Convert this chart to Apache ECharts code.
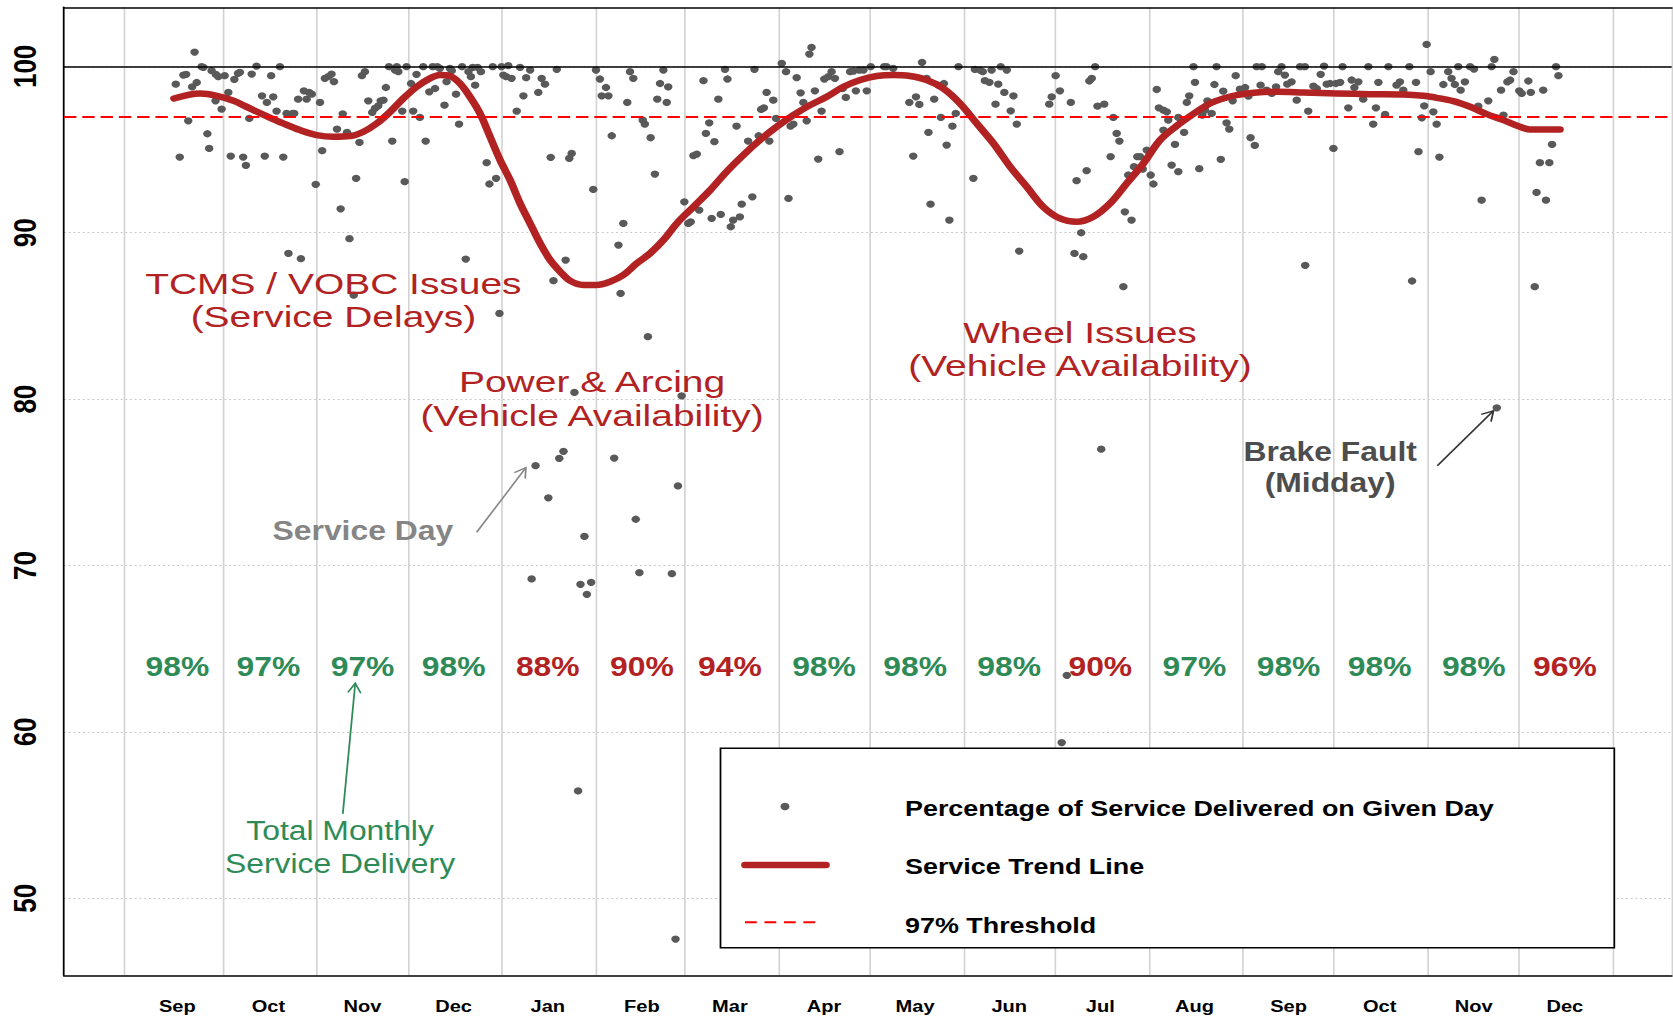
<!DOCTYPE html>
<html>
<head>
<meta charset="utf-8">
<script src="https://cdn.jsdelivr.net/npm/echarts@6/dist/echarts.min.js"></script>
<style>
html,body{margin:0;padding:0;overflow:hidden;background:#fff;}
#wrap{width:1673px;height:1019px;overflow:hidden;position:relative;}
#chart{width:1418px;height:1019px;transform:scaleX(1.17983);transform-origin:0 0;}
</style>
</head>
<body>
<div id="wrap"><div id="chart"></div></div>
<script>
// ---------------- data ----------------
const monthNames = ['Sep','Oct','Nov','Dec','Jan','Feb','Mar','Apr','May','Jun','Jul','Aug','Sep','Oct','Nov','Dec'];
// day index counted from 1 Sep (first year); leap February
const monthStartDays = [0,30,61,91,122,153,182,213,243,274,304,335,366,396,427,457,488];
const firstGridDay = -2.4;
const monthlyDelivery = [98,97,97,98,88,90,94,98,98,98,90,97,98,98,98,96];
const yTicks = [50,60,70,80,90,100];
const threshold = 97;
const fullService = 100;

// [day index, % of service delivered]
const serviceDays = [
[14.5,98.93],[15.8,94.55],[17.0,99.48],[17.9,99.52],[18.6,96.73],[19.9,98.77],[20.7,100.86],[21.4,99.03],[23.0,99.98],[23.6,99.94],
[24.9,95.95],[25.5,95.07],[26.3,99.74],[27.6,97.93],[27.7,99.52],[28.5,99.38],[29.6,97.43],[30.6,99.44],[31.8,98.43],[32.6,94.61],
[33.8,99.22],[35.0,99.58],[35.6,99.64],[36.7,94.55],[37.6,94.05],[38.7,96.87],[39.5,99.54],[41.1,100.02],[42.9,98.23],[43.8,94.61],
[44.5,97.83],[45.9,99.44],[46.6,98.17],[47.7,97.31],[48.8,99.98],[49.9,94.55],[51.0,97.17],[51.6,88.76],[53.0,97.17],[53.5,97.17],
[54.8,98.03],[55.7,88.44],[56.7,98.53],[57.6,98.03],[58.4,98.43],[59.3,98.33],[60.6,92.91],[62.0,97.83],[62.7,94.93],[63.6,99.28],
[64.7,99.38],[65.8,99.54],[66.6,99.08],[67.6,96.23],[68.8,91.44],[69.5,97.15],[70.9,96.03],[71.7,89.64],[73.1,86.25],[73.9,93.27],
[75.0,95.43],[75.8,99.44],[76.8,99.68],[77.9,97.93],[79.2,97.23],[80.1,97.47],[81.2,97.63],[82.0,97.93],[82.9,97.97],[83.7,98.73],
[84.7,99.98],[85.8,95.51],[86.7,99.78],[87.3,99.98],[87.8,99.68],[89.1,97.31],[89.9,93.07],[90.5,99.98],[92.0,98.97],[92.7,97.31],
[93.8,99.52],[94.9,96.93],[96.0,99.98],[96.8,95.51],[98.0,98.47],[99.1,99.98],[99.9,98.67],[100.6,99.98],[101.5,99.88],[103.0,97.67],
[103.7,99.08],[104.8,99.88],[105.4,99.74],[106.8,98.33],[107.8,96.53],[108.8,99.98],[110.0,88.42],[110.9,99.68],[111.7,99.38],[112.3,99.94],
[113.1,98.87],[113.9,99.94],[115.0,99.68],[116.9,94.21],[117.8,92.93],[118.9,99.98],[120.0,93.27],[121.1,85.15],[121.8,99.98],[122.4,99.48],
[123.3,99.38],[124.0,100.04],[125.1,99.28],[126.8,97.31],[127.9,99.94],[129.0,98.23],[129.9,99.32],[131.2,99.78],[131.7,69.19],[133.0,76.0],
[133.9,98.43],[135.0,99.28],[136.1,98.93],[137.2,74.07],[138.0,94.53],[138.9,87.12],[140.0,99.82],[140.8,76.44],[142.2,76.86],[142.9,88.36],
[144.1,94.47],[144.9,94.77],[145.8,80.4],[147.0,56.45],[147.8,68.87],[149.1,71.75],[149.9,68.27],[151.3,68.99],[152.0,92.6],[152.9,99.78],
[154.2,99.24],[154.8,98.23],[156.2,98.73],[157.0,98.23],[158.1,95.83],[158.9,76.46],[160.3,89.26],[161.0,86.35],[161.9,90.56],[163.2,97.83],
[164.1,99.68],[165.2,99.28],[166.0,72.78],[167.2,69.57],[168.3,96.77],[169.0,96.53],[170.0,83.75],[170.9,95.71],[172.3,93.53],[173.1,98.03],
[174.0,98.97],[175.1,99.78],[176.2,97.83],[176.7,98.77],[177.9,69.51],[179.1,47.55],[179.9,74.78],[181.1,80.2],
[182.0,91.86],[183.3,90.56],[184.1,90.66],[185.0,94.63],[186.1,94.73],[186.9,91.36],[188.3,99.14],[189.1,95.97],[190.2,96.61],[191.0,90.86],
[191.9,95.47],[193.2,98.03],[194.0,91.1],[195.4,99.82],[196.2,99.24],[197.3,90.36],[198.1,90.76],[199.2,96.41],[200.3,90.96],[200.9,91.72],
[203.0,95.51],[204.4,92.16],[205.1,99.82],[206.5,95.83],[207.3,97.41],[208.2,97.51],[209.1,98.43],[210.0,95.51],[211.3,97.97],[212.2,96.87],
[214.1,100.18],[215.5,99.68],[216.3,92.06],[217.0,96.41],[217.9,96.53],[219.0,99.32],[220.3,98.41],[221.2,97.83],[222.3,96.73],[223.2,100.74],
[223.9,101.14],[225.0,98.53],[226.1,94.43],[227.2,97.31],[228.1,99.24],[229.4,99.38],[230.5,99.68],[231.6,99.28],[233.1,94.87],[234.2,98.67],
[235.2,98.13],[236.6,99.68],[237.7,99.72],[238.5,98.53],[239.6,99.78],[241.0,99.78],[242.1,98.53],[243.4,99.98],[247.8,99.98],[248.6,99.98],
[250.8,99.88],[256.1,97.83],[257.4,94.61],[258.3,98.17],[259.4,97.71],[260.3,100.24],[261.8,99.28],[262.4,96.03],[263.1,91.72],[264.3,98.03],
[265.7,98.87],[266.5,96.93],[267.5,98.97],[268.4,95.27],[269.3,90.76],[270.3,96.41],[271.4,97.17],[272.3,99.98],[277.2,93.27],[277.7,99.82],
[279.4,99.78],[280.3,99.68],[281.0,99.14],[282.5,99.04],[283.2,99.78],[284.5,97.73],[285.4,98.93],[286.2,99.98],[287.4,98.43],[288.2,99.78],
[289.5,97.33],[290.4,98.23],[291.5,96.53],[292.3,88.9],[302.2,97.73],[303.0,98.17],[304.3,99.44],[305.7,98.53],[306.3,59.36],[308.0,63.4],
[309.3,97.83],[310.5,88.76],[311.2,93.13],[312.7,90.0],[313.4,88.56],[314.5,93.73],[315.4,99.12],[316.2,99.28],[317.3,99.98],[318.1,97.61],
[319.3,76.99],[320.3,97.73],[322.4,94.57],[323.3,96.93],[324.4,95.97],[325.3,95.51],[326.6,86.76],[327.1,91.26],[328.2,93.47],[329.3,90.76],
[330.1,93.97],[331.2,94.57],[332.1,94.57],[333.0,93.83],[334.3,94.97],[335.6,93.47],[336.5,92.93],[337.6,98.61],[338.3,97.51],[339.8,97.37],
[339.8,96.17],[340.9,97.27],[341.4,96.77],[342.5,94.07],[343.6,95.31],[344.7,96.93],[344.7,93.67],
[346.6,96.03],[347.5,97.83],[348.3,98.23],[349.7,99.98],[350.2,99.04],[351.6,93.85],[352.6,97.07],[353.5,97.37],[354.3,97.93],[355.7,97.17],
[356.6,98.91],[357.3,99.98],[358.7,94.41],[359.5,98.51],[360.6,96.61],[361.5,96.23],[362.6,97.93],[363.6,99.44],[365.0,98.63],[366.7,98.73],
[367.8,98.21],[368.5,95.71],[369.9,95.25],[370.5,99.98],[371.8,98.87],[372.2,99.98],[373.8,98.57],[375.5,98.37],[376.9,98.77],[377.6,99.68],
[378.7,99.98],[379.8,99.48],[380.6,98.93],[382.0,99.07],[383.7,97.97],[384.8,99.98],[386.4,99.98],[386.5,88.04],[387.5,97.31],[389.2,98.81],
[390.3,98.67],[391.6,99.52],[392.7,100.02],[393.6,98.93],[394.7,98.97],[395.8,95.07],[396.6,98.97],[398.0,99.04],[398.8,99.98],[400.7,97.51],
[401.8,99.18],[402.7,98.73],[404.0,99.07],[405.6,98.03],[407.3,99.98],[408.9,96.53],[409.8,97.51],[410.6,99.04],[412.8,97.11],[413.9,99.98],
[416.6,98.87],[417.7,99.07],[418.8,98.57],[420.8,99.98],[421.7,87.1],[423.0,99.04],[423.8,94.87],[424.9,96.91],[425.7,97.63],[426.5,101.32],
[427.8,99.68],[428.7,97.27],[429.8,96.53],[430.7,94.55],[432.0,98.91],[433.6,99.68],[434.7,99.28],[435.8,98.91],[436.9,99.98],[437.7,98.57],
[439.1,99.07],[440.8,99.98],[442.1,99.84],[443.5,97.61],[444.6,91.96],[446.8,97.93],[447.9,99.98],[448.8,100.42],[449.6,79.48],[451.0,98.57],
[451.8,97.07],[453.1,99.07],[454.0,99.18],[455.1,99.68],[457.0,98.53],[457.8,98.37],[460.0,99.12],[460.8,98.43],[462.1,86.76],[462.7,92.42],
[463.8,94.21],[464.9,98.57],[465.8,91.96],[466.9,94.21],[467.8,95.31],[469.1,99.98],[469.9,99.44]
];

const trendDays = [13.9,22.5,28.0,33.5,38.9,44.4,49.9,55.4,60.9,66.4,71.9,76.3,80.7,85.1,89.4,93.8,98.2,101.5,104.8,108.1,
111.4,114.7,118.0,121.3,124.6,127.9,131.2,134.5,137.8,141.1,144.3,148.7,153.1,157.5,161.9,166.3,170.7,175.1,179.5,185.0,
190.5,195.9,201.4,206.9,212.4,217.9,223.4,228.9,234.4,239.9,245.4,250.8,256.3,261.8,267.3,272.8,278.3,283.8,289.3,294.8,
300.2,305.7,311.2,316.7,322.2,327.7,333.2,338.7,344.0,350.7,355.1,359.5,363.9,370.5,377.1,385.9,396.9,407.8,418.8,425.4,
429.8,435.3,440.8,446.3,451.8,457.2,460.5,464.9,470.4];
const trendValues = [98.07,98.37,98.23,97.93,97.47,97.01,96.57,96.17,95.87,95.77,95.81,96.07,96.57,97.27,98.07,98.77,99.28,99.48,99.42,98.97,
98.17,97.17,95.77,94.37,93.17,91.76,90.56,89.36,88.36,87.66,87.12,86.86,86.86,87.06,87.46,88.16,88.76,89.56,90.56,91.56,
92.56,93.67,94.67,95.57,96.37,97.07,97.67,98.17,98.77,99.18,99.42,99.48,99.42,99.18,98.67,97.77,96.57,95.37,93.97,92.76,
91.56,90.86,90.66,90.96,91.76,92.97,94.17,95.57,96.4,97.27,97.77,98.07,98.27,98.43,98.47,98.43,98.37,98.33,98.31,98.23,
98.11,97.91,97.57,97.13,96.77,96.37,96.21,96.21,96.21];

// ---------------- layout ----------------
const SX = 1673 / 1418;          // horizontal stretch of the original picture
const W = 1418, H = 1019;
const FONT = "'Liberation Sans', Arial, Helvetica, sans-serif";
const RED = '#B22222', GREEN = '#2E8B57';
const X_MIN = -22.33, X_MAX = 507.2, Y_MIN = 45.37, Y_MAX = 103.55;
const PCT_ROW = 63.92;

const labelDays = monthNames.map((m, i) => monthStartDays[i] + 15);
const gridDays = monthStartDays.map((d, i) => i === 0 ? firstGridDay : d);

const chart = echarts.init(document.getElementById('chart'), null, {renderer: 'svg', width: W, height: H});

const option = {
  animation: false,
  backgroundColor: '#fff',
  textStyle: {fontFamily: FONT},
  grid: {left: 64 / SX, right: W - 1671.7 / SX, top: 7.3, bottom: 43.7, containLabel: false, outerBoundsMode: 'none'},
  xAxis: [{
    type: 'value', min: X_MIN, max: X_MAX,
    axisLine: {show: true, onZero: false, lineStyle: {color: '#000', width: 1.7}},
    axisTick: {show: false, customValues: gridDays},
    axisLabel: {
      customValues: labelDays, margin: 22,
      formatter: v => monthNames[labelDays.indexOf(v)] || '',
      fontSize: 17, fontWeight: 'bold', color: '#000', fontFamily: FONT
    },
    splitLine: {show: true, lineStyle: {color: '#D3D3D3', width: 1.4}}
  }, {
    type: 'value', min: X_MIN, max: X_MAX, position: 'top',
    axisLine: {show: true, onZero: false, lineStyle: {color: '#000', width: 1.7}},
    axisTick: {show: false}, axisLabel: {show: false}, splitLine: {show: false}
  }],
  yAxis: [{
    type: 'value', min: Y_MIN, max: Y_MAX,
    axisLine: {show: true, onZero: false, lineStyle: {color: '#000', width: 1.5}},
    axisTick: {show: false, customValues: yTicks},
    axisLabel: {customValues: yTicks, rotate: 90, margin: 20, fontSize: 26, fontWeight: 'bold', color: '#000', fontFamily: FONT},
    splitLine: {show: true, lineStyle: {color: '#C4C4C4', width: 1, type: [1.5, 2.5]}}
  }, {
    type: 'value', min: Y_MIN, max: Y_MAX, position: 'right',
    axisLine: {show: true, onZero: false, lineStyle: {color: '#D3D3D3', width: 1.4}},
    axisTick: {show: false}, axisLabel: {show: false}, splitLine: {show: false}
  }],
  series: [
    {
      name: 'Reference lines', type: 'line', data: [], z: 1, silent: true,
      markLine: {
        silent: true, symbol: ['none', 'none'], label: {show: false}, animation: false,
        data: [
          {yAxis: fullService, lineStyle: {color: '#000', width: 1.7, type: 'solid'}},
          {yAxis: threshold, lineStyle: {color: '#FF0000', width: 2, type: [10.5, 5]}}
        ]
      }
    },
    {
      name: 'Percentage of Service Delivered on Given Day', type: 'scatter', z: 2,
      symbol: 'circle', symbolSize: 7.2, itemStyle: {color: '#595959', opacity: 1},
      data: serviceDays
    },
    {
      name: 'Service Trend Line', type: 'line', z: 3, smooth: 0.35, showSymbol: false, symbol: 'none',
      lineStyle: {color: RED, width: 6.5, cap: 'round', join: 'round'},
      data: trendDays.map((d, i) => [d, trendValues[i]])
    },
    {
      name: 'Monthly delivery', type: 'scatter', z: 4, symbolSize: 1, silent: true,
      itemStyle: {color: 'rgba(0,0,0,0)', opacity: 1},
      label: {show: true, position: 'inside', fontSize: 27, fontWeight: 'bold', fontFamily: FONT, opacity: 1,
        textBorderWidth: 0, formatter: p => p.data.pct + '%'},
      data: monthlyDelivery.map((p, i) => ({
        value: [labelDays[i], PCT_ROW], pct: p,
        label: {color: p >= threshold ? GREEN : RED}
      }))
    }
  ]
};
chart.setOption(option);

// ---------------- annotations & legend ----------------
const annotations = [
  {text: 'TCMS / VOBC Issues\n(Service Delays)', at: [66.4, 85.96], color: RED, size: 30, weight: 'normal', lh: 33.6, sx: 1.1},
  {text: 'Power & Arcing\n(Vehicle Availability)', at: [151.6, 80.04], color: RED, size: 30, weight: 'normal', lh: 33.6, sx: 1.1},
  {text: 'Wheel Issues\n(Vehicle Availability)', at: [312.3, 83.0], color: RED, size: 30, weight: 'normal', lh: 33.6, sx: 1.1},
  {text: 'Brake Fault\n(Midday)', at: [394.7, 75.92], color: '#4D4D4D', size: 27, weight: 'bold', lh: 31.5, sx: 1},
  {text: 'Service Day', at: [76.1, 72.09], color: '#858585', size: 27, weight: 'bold', lh: 30, sx: 1},
  {text: 'Total Monthly\nService Delivery', at: [68.6, 53.07], color: GREEN, size: 27, weight: 'normal', lh: 33, sx: 1}
];
const arrows = [
  {from: [113.6, 72.0], to: [129.8, 75.88], color: '#888888'},
  {from: [69.5, 55.07], to: [73.6, 62.92], color: GREEN},
  {from: [430.0, 76.0], to: [448.5, 79.3], color: '#333333'}
];

const toPx = p => chart.convertToPixel({xAxisIndex: 0, yAxisIndex: 0}, p);
const graphics = [];
annotations.forEach(a => {
  const p = toPx(a.at);
  graphics.push({type: 'text', x: p[0], y: p[1], scaleX: a.sx, z: 50, silent: true,
    style: {text: a.text, fill: a.color, fontSize: a.size, fontWeight: a.weight, fontFamily: FONT,
      align: 'center', verticalAlign: 'middle', lineHeight: a.lh}});
});
arrows.forEach(a => {
  const p1 = toPx(a.from), p2 = toPx(a.to);
  const ang = Math.atan2(p2[1] - p1[1], p2[0] - p1[0]);
  const L = 11, h = Math.PI / 6;
  const l = [p2[0] - L * Math.cos(ang - h), p2[1] - L * Math.sin(ang - h)];
  const r = [p2[0] - L * Math.cos(ang + h), p2[1] - L * Math.sin(ang + h)];
  graphics.push({type: 'polyline', z: 50, silent: true, shape: {points: [p1, p2]}, style: {stroke: a.color, lineWidth: 1.5, fill: null}});
  graphics.push({type: 'polyline', z: 50, silent: true, shape: {points: [l, p2, r]}, style: {stroke: a.color, lineWidth: 1.5, fill: null}});
});

// legend box
const LX = v => v / SX;
graphics.push({type: 'rect', z: 60, silent: true,
  shape: {x: LX(720.5), y: 748.3, width: LX(1614.3) - LX(720.5), height: 199.4},
  style: {fill: '#fff', stroke: '#000', lineWidth: 1.5}});
graphics.push({type: 'circle', z: 61, silent: true, shape: {cx: LX(785), cy: 806.5, r: 3.8}, style: {fill: '#595959'}});
graphics.push({type: 'line', z: 61, silent: true, shape: {x1: LX(745), y1: 865, x2: LX(826), y2: 865},
  style: {stroke: RED, lineWidth: 6.5, lineCap: 'round'}});
graphics.push({type: 'line', z: 61, silent: true, shape: {x1: LX(745), y1: 922.3, x2: LX(819), y2: 922.3},
  style: {stroke: '#FF0000', lineWidth: 2, lineDash: [10, 6.5]}});
const legendNames = ['Percentage of Service Delivered on Given Day', 'Service Trend Line', '97% Threshold'];
const legendY = [808, 866, 925];
legendNames.forEach((t, i) => {
  graphics.push({type: 'text', z: 61, silent: true, x: LX(905), y: legendY[i],
    style: {text: t, fill: '#000', fontSize: 22.8, fontWeight: 'bold', fontFamily: FONT, align: 'left', verticalAlign: 'middle'}});
});

chart.setOption({graphic: graphics});
</script>
</body>
</html>
